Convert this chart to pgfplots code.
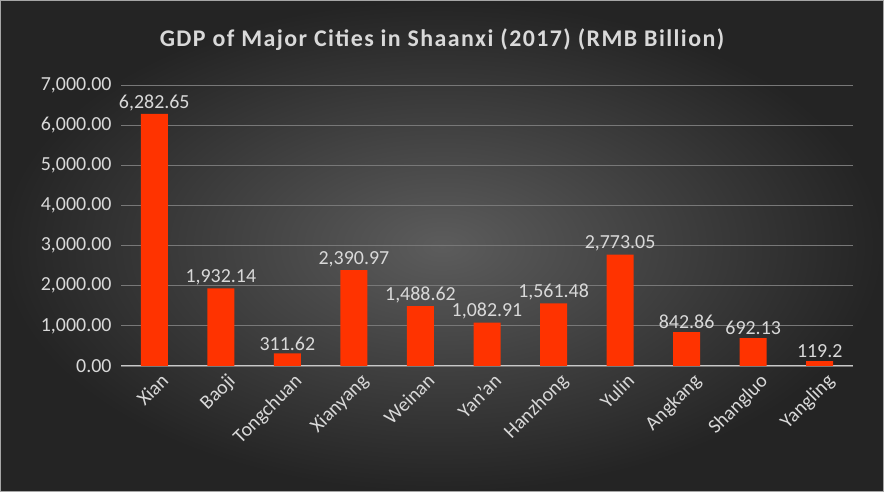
\documentclass[border=0pt]{standalone}
\usepackage{pgfplots}
\pgfplotsset{compat=1.18}
\usepackage{fontspec}
\setmainfont{Carlito}
\definecolor{bar}{RGB}{255,51,0}
\definecolor{txt}{RGB}{217,217,217}
\begin{document}
\begin{tikzpicture}[x=1bp,y=1bp]
\shade[inner color={rgb,255:red,92;green,92;blue,92}, outer color={rgb,255:red,36;green,36;blue,36}] (0,0) rectangle (884,492);
\draw[gray!70, line width=1bp] (0.5,0.5) rectangle (883.5,491.5);
\node[text=txt, font=\fontsize{24}{26}\selectfont\bfseries\addfontfeature{LetterSpace=6}] at (442,452) {GDP of Major Cities in Shaanxi (2017) (RMB Billion)};
\begin{axis}[at={(121bp,126bp)}, anchor=south west, scale only axis,
  width=732bp, height=281bp,
  xmin=-0.5, xmax=10.5, ymin=0, ymax=7000,
  ytick={0,1000,...,7000},
  xtick={0,...,10},
  xticklabels={Xian,Baoji,Tongchuan,Xianyang,Weinan,Yan'an,Hanzhong,Yulin,Angkang,Shangluo,Yangling},
  xticklabel style={rotate=45, anchor=north east, xshift=6bp, yshift=-2bp},
  yticklabel style={xshift=-6bp},
  axis line style={draw=none},
  y axis line style={draw=none},
  x axis line style={draw={rgb,255:red,200;green,200;blue,200}, line width=1bp},
  axis x line*=bottom, axis y line*=left,
  tick style={draw=none},
  ymajorgrids, grid style={draw={rgb,255:red,120;green,120;blue,120}, line width=0.75bp},
  ticklabel style={text=txt, font=\fontsize{20}{22}\selectfont},
  /pgf/number format/assume math mode=true,
  yticklabel={\pgfmathprintnumber[fixed, fixed zerofill, precision=2, 1000 sep={,}]{\tick}},
  ybar, bar width=27bp,
  nodes near coords={\pgfplotspointmeta},
  point meta=explicit symbolic,
  nodes near coords style={text=txt, font=\fontsize{20}{22}\selectfont, inner sep=3bp},
]
\addplot[fill=bar, draw=none] table[meta=lab] {
x y lab
0 6282.65 6,282.65
1 1932.14 1,932.14
2 311.62 311.62
3 2390.97 2,390.97
4 1488.62 1,488.62
5 1082.91 1,082.91
6 1561.48 1,561.48
7 2773.05 2,773.05
8 842.86 842.86
9 692.13 692.13
10 119.2 119.2
};
\end{axis}
\end{tikzpicture}
\end{document}
